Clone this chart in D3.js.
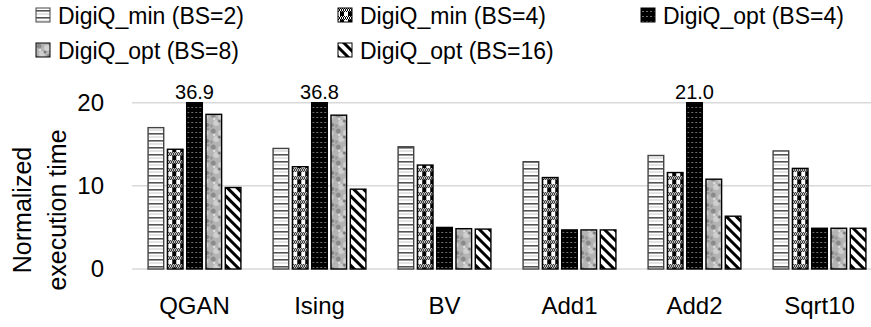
<!DOCTYPE html>
<html>
<head>
<meta charset="utf-8">
<script src="https://cdn.jsdelivr.net/npm/d3@7"></script>
<style>
  body { margin: 0; background: #fff; }
  svg { display: block; font-family: "Liberation Sans", Arial, sans-serif; }
</style>
</head>
<body>
<svg id="chart"></svg>
<script>
const categories = ["QGAN", "Ising", "BV", "Add1", "Add2", "Sqrt10"]
const seriesNames = ["DigiQ_min (BS=2)", "DigiQ_min (BS=4)", "DigiQ_opt (BS=4)", "DigiQ_opt (BS=8)", "DigiQ_opt (BS=16)"]
const minBS2 = [17.0, 14.5, 14.7, 12.9, 13.65, 14.2]
const minBS4 = [14.4, 12.3, 12.5, 11.0, 11.6, 12.1]
const optBS4 = [36.9, 36.8, 5.0, 4.7, 21.0, 4.9]
const optBS8 = [18.6, 18.5, 4.85, 4.7, 10.8, 4.9]
const optBS16 = [9.8, 9.6, 4.8, 4.7, 6.35, 4.9]
const yTicks = [0, 10, 20]
const yMax = 20

const seriesValues = [minBS2, minBS4, optBS4, optBS8, optBS16]
const patternIds = ["p-hline", "p-plaid", "p-dots", "p-granite", "p-diag"]

const width = 871
const height = 327

const svg = d3.select("#chart").attr("width", width).attr("height", height)
const defs = svg.append("defs")

// --- fill patterns (approximating the Excel ones) ---
let p = defs.append("pattern").attr("id", "p-hline").attr("patternUnits", "userSpaceOnUse")
  .attr("width", 8).attr("height", 7)
p.append("rect").attr("width", 8).attr("height", 7).attr("fill", "#fff")
p.append("rect").attr("y", 0).attr("width", 8).attr("height", 1.6).attr("fill", "#555")
p.append("rect").attr("y", 3.5).attr("width", 8).attr("height", 1).attr("fill", "#c8c8c8")

p = defs.append("pattern").attr("id", "p-plaid").attr("patternUnits", "userSpaceOnUse")
  .attr("width", 8).attr("height", 8)
p.append("rect").attr("width", 8).attr("height", 8).attr("fill", "#fff")
for (let i = 0; i < 8; i++) {
  p.append("rect").attr("x", i).attr("y", i % 2).attr("width", 1).attr("height", 1).attr("fill", "#000")
  p.append("rect").attr("x", i).attr("y", 2 + (i + 1) % 2).attr("width", 1).attr("height", 1).attr("fill", "#000")
}
p.append("rect").attr("x", 2).attr("y", 3.5).attr("width", 4).attr("height", 4.5).attr("fill", "#000")

p = defs.append("pattern").attr("id", "p-dots").attr("patternUnits", "userSpaceOnUse")
  .attr("width", 4).attr("height", 5)
p.append("rect").attr("width", 4).attr("height", 5).attr("fill", "#000")
p.append("rect").attr("x", 1.5).attr("y", 2).attr("width", 1).attr("height", 1).attr("fill", "#ddd")

p = defs.append("pattern").attr("id", "p-granite").attr("patternUnits", "userSpaceOnUse")
  .attr("width", 16).attr("height", 16)
p.append("rect").attr("width", 16).attr("height", 16).attr("fill", "#b4b4b4")
const blots = [[3, 3, 2.5, "#8a8a8a"], [11, 5, 3, "#d2d2d2"], [6, 11, 3, "#cfcfcf"], [13, 13, 2, "#858585"],
  [1, 14, 1.8, "#999"], [9, 9, 1.5, "#7a7a7a"], [14, 1, 1.5, "#9a9a9a"], [4, 7, 1.2, "#e0e0e0"]]
blots.forEach(b => p.append("circle").attr("cx", b[0]).attr("cy", b[1]).attr("r", b[2]).attr("fill", b[3]))

p = defs.append("pattern").attr("id", "p-diag").attr("patternUnits", "userSpaceOnUse")
  .attr("width", 7).attr("height", 7).attr("patternTransform", "rotate(-45)")
p.append("rect").attr("width", 7).attr("height", 7).attr("fill", "#fff")
p.append("rect").attr("x", 0).attr("width", 3).attr("height", 7).attr("fill", "#000")

// --- scales ---
const x0 = d3.scaleBand().domain(categories).range([132, 882])
  .paddingInner(0.228).paddingOuter(0.114)
const x1 = d3.scaleBand().domain(seriesNames).range([0, x0.bandwidth()])
  .paddingInner(0.19).paddingOuter(0.095)
const y = d3.scaleLinear().domain([0, yMax]).range([269, 102.7]).clamp(true)

// gridlines
svg.append("g")
  .selectAll("line")
  .data(yTicks)
  .enter()
  .append("line")
    .attr("x1", 132).attr("x2", width)
    .attr("y1", d => y(d)).attr("y2", d => y(d))
    .attr("stroke", "#d9d9d9").attr("stroke-width", 1.5)

// y tick labels
const yAxis = svg.append("g")
  .attr("transform", "translate(104,0)")
  .call(d3.axisLeft(y).tickValues(yTicks).tickSize(0).tickPadding(0))
yAxis.select(".domain").remove()
yAxis.selectAll("text").attr("font-size", 24).attr("font-family", "Liberation Sans").attr("fill", "#000")

// x labels
const xAxis = svg.append("g")
  .attr("transform", "translate(0,297)")
  .call(d3.axisBottom(x0).tickSize(0).tickPadding(0))
xAxis.select(".domain").remove()
xAxis.selectAll("text").attr("font-size", 24).attr("font-family", "Liberation Sans").attr("fill", "#000")

// bars
const groups = svg.append("g")
  .selectAll("g")
  .data(categories)
  .enter()
  .append("g")
    .attr("transform", d => "translate(" + x0(d) + ",0)")

groups.selectAll("rect")
  .data((c, ci) => seriesNames.map((s, si) => ({ s, si, v: seriesValues[si][ci] })))
  .enter()
  .append("rect")
    .attr("x", d => x1(d.s))
    .attr("y", d => y(d.v))
    .attr("width", x1.bandwidth())
    .attr("height", d => y(0) - y(d.v))
    .attr("fill", d => "url(#" + patternIds[d.si] + ")")
    .attr("stroke", d => d.si === 0 ? "#444" : "#000")
    .attr("stroke-width", 1.4)

// value labels for the clipped bars
groups.selectAll("text.over")
  .data((c, ci) => optBS4[ci] > yMax ? [optBS4[ci]] : [])
  .enter()
  .append("text")
    .attr("class", "over")
    .attr("x", x1(seriesNames[2]) + x1.bandwidth() / 2)
    .attr("y", y(yMax) - 4)
    .attr("text-anchor", "middle")
    .attr("font-size", 20)
    .text(d => d3.format(".1f")(d))

// y title
const yTitle = svg.append("text")
  .attr("transform", "translate(0,210) rotate(-90)")
  .attr("text-anchor", "middle")
  .attr("font-size", 25)
yTitle.append("tspan").attr("x", 0).attr("y", 31).text("Normalized")
yTitle.append("tspan").attr("x", 0).attr("y", 66).text("execution time")

// legend
const legendPos = [[36, 24], [338, 24], [641, 24], [36, 59], [338, 59]]
const legend = svg.append("g")
  .selectAll("g")
  .data(seriesNames)
  .enter()
  .append("g")
    .attr("transform", (d, i) => "translate(" + legendPos[i][0] + "," + legendPos[i][1] + ")")
legend.append("rect")
  .attr("x", 0).attr("y", -16).attr("width", 14).attr("height", 14)
  .attr("fill", (d, i) => "url(#" + patternIds[i] + ")")
  .attr("stroke", (d, i) => i === 0 ? "#444" : "#000").attr("stroke-width", 1)
legend.append("text")
  .attr("x", 22).attr("y", 0)
  .attr("font-size", 23)
  .text(d => d)
</script>
</body>
</html>
